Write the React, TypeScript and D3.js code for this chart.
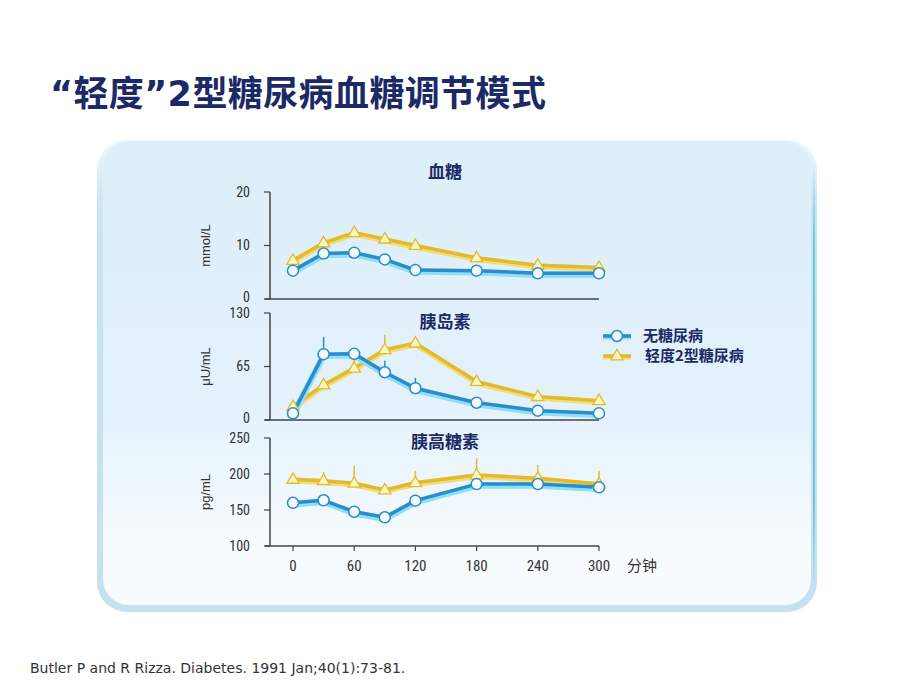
import React from "react";
import * as d3 from "d3";

const times = [0, 30, 60, 90, 120, 180, 240, 300];
const xTicks = [0, 60, 120, 180, 240, 300];

const glucoseNormal = [5.3, 8.5, 8.65, 7.4, 5.4, 5.3, 4.8, 4.8];
const glucoseT2 = [7.2, 10.5, 12.4, 11.2, 10.0, 7.7, 6.3, 5.9];
const insulinNormal = [8.1, 80, 80.4, 58, 38.6, 21, 11.3, 8.1];
const insulinT2 = [16.2, 42.6, 63, 85.3, 93.4, 46.7, 28.4, 23.5];
const insulinNormalErrTop = [null, 101, null, 72, 51, null, null, null];
const insulinT2ErrTop = [null, null, 75, 103.6, null, null, null, null];
const glucagonNormal = [160, 163.5, 147.6, 139.9, 163, 186, 186, 181.5];
const glucagonT2 = [192.6, 190.7, 187.1, 177.8, 187.9, 198.6, 194, 186.1];
const glucagonT2ErrTop = [null, 203, 211.5, 186, 204.6, 221.8, 212.5, 204.6];

const seriesNames = ["无糖尿病", "轻度2型糖尿病"];

const panels = [
  { title: "血糖", unit: "mmol/L", domain: [0, 20], ticks: [0, 10, 20], top: 192, bottom: 299, titleY: 178,
    a: glucoseNormal, b: glucoseT2, aErr: [] as (number | null)[], bErr: [] as (number | null)[] },
  { title: "胰岛素", unit: "μU/mL", domain: [0, 130], ticks: [0, 65, 130], top: 313, bottom: 420, titleY: 328,
    a: insulinNormal, b: insulinT2, aErr: insulinNormalErrTop, bErr: insulinT2ErrTop },
  { title: "胰高糖素", unit: "pg/mL", domain: [100, 250], ticks: [100, 150, 200, 250], top: 438, bottom: 546, titleY: 448,
    a: glucagonNormal, b: glucagonT2, aErr: [] as (number | null)[], bErr: glucagonT2ErrTop },
];

const BLUE = "#2a8ccd";
const BLUE_GLOW = "#8fe0f4";
const YEL = "#e2bb2c";
const YEL_GLOW = "#f2dc7c";
const NAVY = "#1b2a66";
const AX = "#444";
const NUM_FONT = "'Liberation Sans Narrow', 'Roboto Condensed', 'Liberation Sans', Arial, sans-serif";
const CJK = "'Noto Sans CJK SC', sans-serif";
const LATIN_BOLD = "'DejaVu Sans', Verdana, sans-serif";

const x = d3.scaleLinear().domain([0, 300]).range([293, 599]);

function tri(cx: number, cy: number, r: number) {
  return `M${cx},${cy - r}L${cx + r * 0.95},${cy + r * 0.6}L${cx - r * 0.95},${cy + r * 0.6}Z`;
}

export default function App() {
  return (
    <svg width={920} height={690} style={{ position: "absolute", left: 0, top: 0, display: "block" }}>
      <defs>
        <linearGradient id="bg" x1="0" y1="0" x2="0" y2="1">
          <stop offset="0" stopColor="#ddeffa" />
          <stop offset="0.55" stopColor="#e3f1fb" />
          <stop offset="0.88" stopColor="#f6fbfe" />
          <stop offset="1" stopColor="#f8fcfe" />
        </linearGradient>
        <linearGradient id="outer" x1="0" y1="0" x2="0" y2="1">
          <stop offset="0" stopColor="#eef7fc" />
          <stop offset="0.15" stopColor="#c9e4f3" />
          <stop offset="1" stopColor="#c6e2f1" />
        </linearGradient>
        <linearGradient id="tealEdge" gradientUnits="userSpaceOnUse" x1="0" y1="165" x2="0" y2="590">
          <stop offset="0" stopColor="#6fc3d9" stopOpacity="0" />
          <stop offset="0.2" stopColor="#6fc3d9" />
          <stop offset="0.8" stopColor="#6fc3d9" />
          <stop offset="1" stopColor="#6fc3d9" stopOpacity="0" />
        </linearGradient>
      </defs>
      <rect x={0} y={0} width={920} height={690} fill="#fff" />
      <text x={50} y={106} fontFamily={CJK} fontWeight={700} fontSize={35} fill={NAVY} letterSpacing={0.4}>
        <tspan fontFamily={LATIN_BOLD}>“</tspan>
        <tspan>轻度</tspan>
        <tspan fontFamily={LATIN_BOLD}>”2</tspan>
        <tspan>型糖尿病血糖调节模式</tspan>
      </text>
      <rect x={97} y={140} width={720} height={472} rx={30} fill="url(#outer)" />
      <rect x={103} y={141} width={708} height={464} rx={26} fill="url(#bg)" />
      <line x1={814} x2={814} y1={165} y2={590} stroke="url(#tealEdge)" strokeWidth={2} />
      {panels.map((p, i) => {
        const y = d3.scaleLinear().domain(p.domain).range([p.bottom, p.top]);
        const lineA = d3.line<number>().x((_, k) => x(times[k])).y((v) => y(v));
        const isLast = i === panels.length - 1;
        return (
          <g key={i}>
            <text x={445} y={p.titleY} textAnchor="middle" fontFamily={CJK} fontWeight={700} fontSize={17} fill={NAVY}>
              {p.title}
            </text>
            <line x1={270} x2={270} y1={p.top} y2={p.bottom} stroke={AX} strokeWidth={1.5} />
            <line x1={265} x2={599} y1={p.bottom} y2={p.bottom} stroke={AX} strokeWidth={1.5} />
            {p.ticks.map((t, ti) => (
              <g key={t}>
                <line x1={264} x2={270} y1={y(t)} y2={y(t)} stroke={AX} strokeWidth={1.2} />
                <text x={250} y={y(t) + (ti === 0 && !isLast ? 2.5 : 4.5)} textAnchor="end" fontFamily={NUM_FONT} fontSize={14} fill="#333">
                  {t}
                </text>
              </g>
            ))}
            <text
              transform={`translate(210, ${(p.top + p.bottom) / 2}) rotate(-90)`}
              textAnchor="middle"
              fontFamily="'Liberation Sans', Arial, sans-serif"
              fontSize={13}
              fill="#333"
            >
              {p.unit}
            </text>
            {isLast &&
              xTicks.map((t) => (
                <g key={t}>
                  <line x1={x(t)} x2={x(t)} y1={p.bottom} y2={p.bottom + 5} stroke={AX} strokeWidth={1.2} />
                  <text x={x(t)} y={p.bottom + 25} textAnchor="middle" fontFamily={NUM_FONT} fontSize={15} fill="#333">
                    {t}
                  </text>
                </g>
              ))}
            {isLast && (
              <text x={627} y={p.bottom + 25} fontFamily={CJK} fontSize={15} fill="#333">
                分钟
              </text>
            )}
            {p.bErr.map((e, k) =>
              e == null ? null : (
                <line key={"be" + k} x1={x(times[k])} x2={x(times[k])} y1={y(e)} y2={y(p.b[k])} stroke={YEL} strokeWidth={1.5} />
              )
            )}
            {p.aErr.map((e, k) =>
              e == null ? null : (
                <line key={"ae" + k} x1={x(times[k])} x2={x(times[k])} y1={y(e)} y2={y(p.a[k])} stroke={BLUE} strokeWidth={1.5} />
              )
            )}
            <path d={lineA(p.b) || ""} fill="none" stroke={YEL_GLOW} strokeWidth={6} transform="translate(0,1.2)" strokeLinejoin="round" />
            <path d={lineA(p.b) || ""} fill="none" stroke={YEL} strokeWidth={3.5} strokeLinejoin="round" />
            <path d={lineA(p.a) || ""} fill="none" stroke={BLUE_GLOW} strokeWidth={6.5} transform="translate(0,1.5)" strokeLinejoin="round" />
            <path d={lineA(p.a) || ""} fill="none" stroke={BLUE} strokeWidth={3.5} strokeLinejoin="round" />
            {p.b.map((v, k) => (
              <path key={"bt" + k} d={tri(x(times[k]), y(v), 6.5)} fill="#fdf6c0" stroke={YEL} strokeWidth={1.3} />
            ))}
            {p.a.map((v, k) => (
              <circle key={"ac" + k} cx={x(times[k])} cy={y(v)} r={5.5} fill="#f4fbff" stroke={BLUE} strokeWidth={1.5} />
            ))}
          </g>
        );
      })}
      {seriesNames.map((n, i) => {
        const ly = 336 + i * 20;
        const isA = i === 0;
        return (
          <g key={n}>
            <line x1={603} x2={631} y1={ly + 1} y2={ly + 1} stroke={isA ? BLUE_GLOW : YEL_GLOW} strokeWidth={5} />
            <line x1={603} x2={631} y1={ly} y2={ly} stroke={isA ? BLUE : YEL} strokeWidth={3.5} />
            {isA ? (
              <circle cx={617} cy={ly} r={5.5} fill="#f4fbff" stroke={BLUE} strokeWidth={1.5} />
            ) : (
              <path d={tri(617, ly, 6.5)} fill="#fdf6c0" stroke={YEL} strokeWidth={1.3} />
            )}
            <text x={isA ? 643 : 645} y={ly + 5} fontFamily={CJK} fontWeight={700} fontSize={15} fill={NAVY}>
              {n}
            </text>
          </g>
        );
      })}
      <text x={30} y={673} fontFamily="'DejaVu Sans', Verdana, sans-serif" fontSize={14} fill="#333">
        Butler P and R Rizza. Diabetes. 1991 Jan;40(1):73-81.
      </text>
    </svg>
  );
}
